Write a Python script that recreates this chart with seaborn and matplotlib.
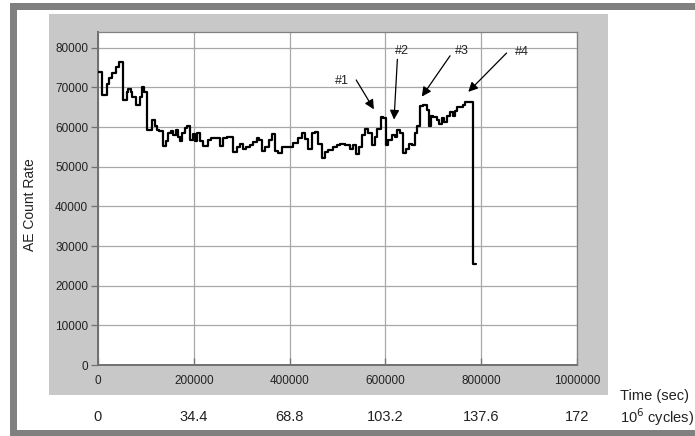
import matplotlib
matplotlib.use("Agg")
import matplotlib.pyplot as plt
from matplotlib.patches import Rectangle
from matplotlib.transforms import blended_transform_factory
import pandas as pd
import seaborn as sns

# AE count rate, held constant from each time stamp (s) to the next
time_s = [
    0, 8000, 18000, 23000, 29000, 37000, 44000, 53000, 60000, 63000,
    68000, 72000, 79000, 88000, 92000, 97000, 102000, 112000, 119000, 124000,
    128000, 135000, 141000, 147000, 152000, 157000, 162000, 166000, 171000, 176000,
    182000, 185000, 192000, 198000, 203000, 207000, 213000, 219000, 230000, 235000,
    255000, 260000, 269000, 281000, 291000, 296000, 302000, 309000, 317000, 324000,
    331000, 337000, 342000, 349000, 356000, 363000, 370000, 376000, 384000, 408000,
    418000, 425000, 432000, 439000, 446000, 453000, 460000, 467000, 474000, 481000,
    491000, 498000, 505000, 516000, 526000, 533000, 539000, 544000, 551000, 557000,
    564000, 571000, 578000, 583000, 590000, 596000, 601000, 606000, 613000, 620000,
    625000, 631000, 636000, 643000, 649000, 655000, 662000, 667000, 672000, 678000,
    686000, 690000, 695000, 700000, 707000, 712000, 718000, 722000, 728000, 735000,
    741000, 745000, 750000, 761000, 766000, 773000, 782000, 789000,
]
count_rate = [
    74000, 68000, 71000, 72300, 73600, 75100, 76500, 66800, 68900, 69500,
    68800, 67700, 65500, 67700, 70200, 68900, 59400, 61900, 60300, 59400,
    59100, 55300, 56500, 58400, 59100, 58000, 59400, 57500, 56500, 58600,
    59700, 60300, 56700, 58200, 56400, 58400, 56500, 55300, 56700, 57300,
    55200, 57300, 57500, 53700, 55000, 55800, 54600, 55000, 55600, 56200,
    57300, 56800, 54000, 55000, 56700, 58300, 54000, 53400, 55000, 55900,
    57300, 58600, 57000, 54600, 58400, 58700, 55800, 52100, 53700, 54200,
    55000, 55400, 55700, 55400, 54600, 55600, 53300, 55000, 58000, 59600,
    58600, 55400, 57500, 59600, 62600, 62200, 55400, 56800, 58000, 57600,
    59200, 58400, 53400, 54500, 55800, 55400, 58400, 60200, 65300, 65600,
    64300, 60200, 62900, 62600, 61800, 60800, 62200, 61400, 62900, 63800,
    62900, 64100, 65000, 65600, 66300, 66400, 25600, 25600,
]

x_ticks = [0, 200000, 400000, 600000, 800000, 1000000]
cycle_labels = ["0", "34.4", "68.8", "103.2", "137.6", "172"]
y_ticks = [0, 10000, 20000, 30000, 40000, 50000, 60000, 70000, 80000]

# event markers: label, label position, arrow tail, arrow tip (data units)
event_labels = ["#1", "#2", "#3", "#4"]
label_xy = [(509000, 71600), (634000, 79100), (759000, 79100), (885000, 78900)]
arrow_tail = [(539000, 71900), (625000, 77100), (735000, 78000), (853000, 78700)]
arrow_tip = [(576000, 64500), (618000, 61900), (676000, 67700), (773000, 68900)]

sns.set_style("white")
plt.rcParams["font.family"] = ["Liberation Sans", "DejaVu Sans"]

W, H = 695, 436
fig = plt.figure(figsize=(W / 100, H / 100), dpi=100)
fig.patch.set_facecolor("white")

def fx(px):
    return px / W

def fy(py):
    return 1 - py / H

# dark frame, white page, grey chart panel (behind the axes)
for (x0, y0, x1, y1, col) in [(10, 3, 700, 442, "#808080"),
                              (17, 10, 700, 430, "white"),
                              (49, 14, 608, 395, "#c8c8c8")]:
    fig.patches.append(Rectangle((fx(x0), fy(y1)), fx(x1) - fx(x0), fy(y0) - fy(y1),
                                 transform=fig.transFigure, facecolor=col,
                                 edgecolor="none", zorder=-10))

ax = fig.add_axes([fx(98), fy(365), fx(577) - fx(98), fy(32) - fy(365)])
ax.set_zorder(1)
ax.set_facecolor("white")

df = pd.DataFrame({"time": time_s, "rate": count_rate})
sns.lineplot(data=df, x="time", y="rate", ax=ax, estimator=None,
             drawstyle="steps-post", color="black", linewidth=1.6, zorder=3)

ax.set_xlim(0, 1000000)
ax.set_ylim(0, 84000)
ax.set_xticks(x_ticks)
ax.set_xticklabels([str(v) for v in x_ticks])
ax.set_yticks(y_ticks)
ax.set_yticklabels([str(v) for v in y_ticks])
ax.set_xlabel("")
ax.set_ylabel("")
ax.grid(True, color="#a8a8a8", linewidth=0.9)
ax.set_axisbelow(True)

for side in ["top", "right"]:
    ax.spines[side].set_color("#808080")
    ax.spines[side].set_linewidth(0.9)
for side in ["left", "bottom"]:
    ax.spines[side].set_color("#707070")
    ax.spines[side].set_linewidth(1.4)

ax.tick_params(axis="y", direction="out", length=5, width=0.9, color="#707070",
               pad=2, labelsize=8.5, labelcolor="#222222", left=True)
ax.tick_params(axis="x", direction="in", length=5, width=0.9, color="#707070",
               pad=7, labelsize=8.5, labelcolor="#222222", bottom=True)

for lab, lxy, tail, tip in zip(event_labels, label_xy, arrow_tail, arrow_tip):
    ax.text(lxy[0], lxy[1], lab, fontsize=9, ha="center", va="center",
            color="#222222", zorder=4)
    ax.annotate("", xy=tip, xytext=tail,
                arrowprops=dict(arrowstyle="-|>", color="black", lw=0.9,
                                mutation_scale=14, shrinkA=0, shrinkB=0),
                zorder=4)

# second time scale in millions of cycles
trans = blended_transform_factory(ax.transData, fig.transFigure)
for xv, lab in zip(x_ticks, cycle_labels):
    fig.text(xv, fy(417), lab, transform=trans, ha="center", va="center",
             fontsize=10.5, color="#222222")

fig.text(fx(620), fy(396), "Time (sec)", ha="left", va="center",
         fontsize=10.5, color="#222222")
fig.text(fx(620), fy(417), "10$^{6}$ cycles)", ha="left", va="center",
         fontsize=10.5, color="#222222")

fig.text(fx(30), fy(205), "AE Count Rate", rotation=90, ha="center",
         va="center", fontsize=10, color="#222222")

fig.savefig("out.png", dpi=100, facecolor=fig.get_facecolor())
